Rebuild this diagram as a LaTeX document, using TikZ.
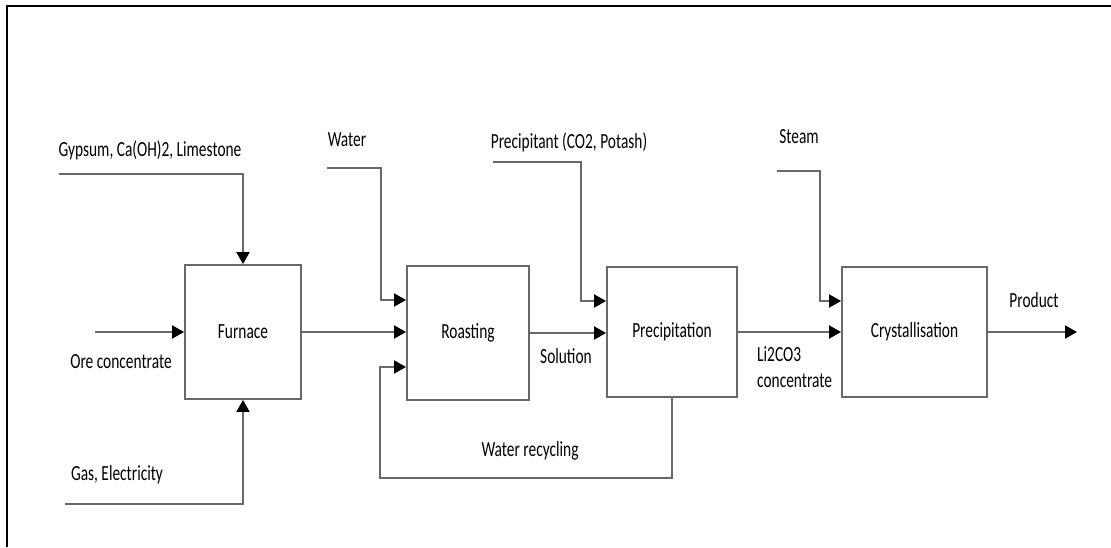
\documentclass[tikz,border=0pt]{standalone}
\usepackage{fontspec}
\setmainfont{Carlito}
\usetikzlibrary{arrows.meta}
\definecolor{linegray}{RGB}{105,105,105}
\newcommand{\vstr}[1]{\scalebox{1}[1.4]{#1}}
\begin{document}
\begin{tikzpicture}[x=1pt,y=-1pt,
  box/.style={draw=linegray,line width=1.9pt,inner sep=0pt,font=\fontsize{15.4}{18.6}\selectfont},
  lbl/.style={inner sep=0pt,font=\fontsize{15.4}{18.6}\selectfont},
  flow/.style={draw=linegray,line width=1.9pt,-{Triangle[length=12pt,width=13pt,color=black]}},
  frameline/.style={draw=black,line width=1.8pt}]
\useasboundingbox (0,0) rectangle (1111,547);
% frame
\coordinate (frTR) at (1111,6);
\coordinate (frTL) at (7,6);
\coordinate (frBL) at (7,547);
\draw[frameline] (frTR) -- (frTL) -- (frBL);
% process boxes
\node[box,minimum width=116pt,minimum height=134pt] (furnace) at (243,332) {\vstr{Furnace}};
\node[box,minimum width=122pt,minimum height=134pt] (roast) at (468,333) {\vstr{Roasting}};
\node[box,minimum width=130pt,minimum height=130pt] (precip) at (672,332) {\vstr{Precipitation}};
\node[box,minimum width=145pt,minimum height=130pt] (cryst) at (914.5,332) {\vstr{Crystallisation}};
% free ends and bends
\coordinate (gypS) at (59,174);
\coordinate (oreS) at (95,332);
\coordinate (gasS) at (65,504);
\coordinate (watS) at (327,168);
\coordinate (watK) at (381,300);
\coordinate (preS) at (493,162);
\coordinate (preK) at (581,301);
\coordinate (stS) at (777,171);
\coordinate (stK) at (820,301);
\coordinate (recL) at (380,478);
\coordinate (recIn) at (380,367);
\coordinate (prodE) at (1077,332);
% connectors
\draw[flow] (gypS) -| (furnace.north);
\draw[flow] (gasS) -| (furnace.south);
\draw[flow] (oreS) -- (furnace.west);
\draw[flow] (furnace.east) -- (furnace.east -| roast.west);
\draw[flow] (watS) -| (watK) -- (watK -| roast.west);
\draw[flow] (precip.south) |- (recL) -- (recIn) -- (recIn -| roast.west);
\draw[flow] (roast.east) -- (roast.east -| precip.west);
\draw[flow] (preS) -| (preK) -- (preK -| precip.west);
\draw[flow] (precip.east) -- (cryst.west);
\draw[flow] (stS) -| (stK) -- (stK -| cryst.west);
\draw[flow] (cryst.east) -- (prodE);
% labels
\node[lbl] (tGyp) at (150,150) {\vstr{Gypsum, Ca(OH)2, Limestone}};
\node[lbl] (tWat) at (347,140) {\vstr{Water}};
\node[lbl] (tOre) at (121,362) {\vstr{Ore concentrate}};
\node[lbl] (tGas) at (117,475) {\vstr{Gas, Electricity}};
\node[lbl] (tPre) at (569,142) {\vstr{Precipitant (CO2, Potash)}};
\node[lbl] (tSol) at (566,356) {\vstr{Solution}};
\node[lbl] (tRec) at (530,451) {\vstr{Water recycling}};
\node[lbl] (tSte) at (799,137) {\vstr{Steam}};
\node[lbl] (tPro) at (1034,300) {\vstr{Product}};
\node[lbl,anchor=west] (tLi) at (757,369) {\vstr{\begin{tabular}{@{}l@{}}Li2CO3\\concentrate\end{tabular}}};
\end{tikzpicture}
\end{document}
